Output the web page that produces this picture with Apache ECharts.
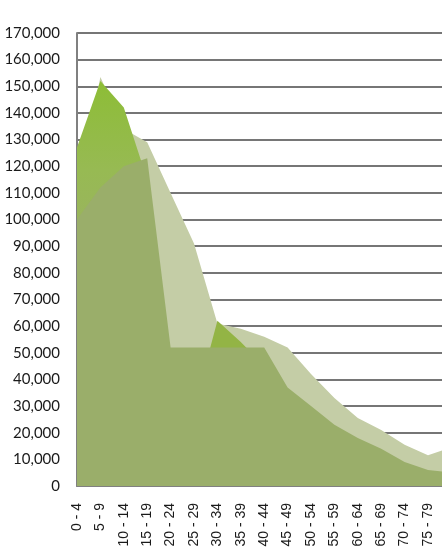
<!DOCTYPE html>
<html>
<head>
<meta charset="utf-8">
<style>
  html, body { margin: 0; padding: 0; background: #fff; }
  #main { width: 442px; height: 549px; }
</style>
<script src="https://cdn.jsdelivr.net/npm/echarts@6.0.0/dist/echarts.min.js"></script>
</head>
<body>
<div id="main"></div>
<script>
// 年龄组
var ageGroups = ['0 - 4','5 - 9','10 - 14','15 - 19','20 - 24','25 - 29','30 - 34','35 - 39',
    '40 - 44','45 - 49','50 - 54','55 - 59','60 - 64','65 - 69','70 - 74','75 - 79','80 +'];

// 后面浅色的面积
var backValues = [110000,153500,134000,129000,110000,91000,61000,59000,
    56000,52000,42000,33000,25500,21000,15500,11500,14500];
// 中间亮绿色
var brightValues = [127000,152000,142000,115000,40000,29000,62000,54000,
    45000,30000,24000,19000,15000,12000,8000,5000,5000];
// 前面橄榄绿
var frontValues = [100000,112000,120000,123000,52000,52000,52000,52000,
    52000,37000,30000,23000,18000,14000,9000,6000,5000];

// y轴刻度
var yMin = 0;
var yMax = 170000;
var yStep = 10000;

function areaSeries(name, data, color) {
    return {
        name: name,
        type: 'line',
        data: data,
        showSymbol: false,
        silent: true,
        lineStyle: { width: 0 },
        areaStyle: { opacity: 1, color: color },
        emphasis: { disabled: true }
    };
}

function showChart() {
    var myChart = echarts.init(document.getElementById('main'));

    //亮绿色往下慢慢变成橄榄绿, 30-34那块保持亮一点
    var brightColor = new echarts.graphic.LinearGradient(0, 0, 0, 1, [
        { offset: 0, color: '#8dbd36' },
        { offset: 0.22, color: '#97ba53' },
        { offset: 0.45, color: '#9bb064' },
        { offset: 0.57, color: '#9aae6a' },
        { offset: 0.585, color: '#93b445' },
        { offset: 0.665, color: '#93b445' },
        { offset: 0.675, color: '#9aae6a' },
        { offset: 1, color: '#9aae6a' }
    ]);

    var option = {
        animation: false,
        grid: { left: 77, top: 33, width: 374.4, height: 453, outerBoundsMode: 'none' },
        xAxis: {
            type: 'category',
            data: ageGroups,
            boundaryGap: false,
            axisLine: { lineStyle: { color: '#808080', width: 2 } },
            axisTick: { show: false },
            axisLabel: {
                rotate: 90,
                interval: 0,
                margin: 17,
                color: '#1a1a1a',
                fontFamily: 'Liberation Sans',
                fontSize: 14
            },
            splitLine: { show: false }
        },
        yAxis: {
            type: 'value',
            min: yMin,
            max: yMax,
            interval: yStep,
            axisLine: { show: true, lineStyle: { color: '#808080', width: 2 } },
            axisTick: { show: false },
            axisLabel: {
                margin: 17,
                color: '#1a1a1a',
                fontFamily: 'Lato',
                fontSize: 15,
                formatter: function (v) {
                    return v.toString().replace(/\B(?=(\d{3})+(?!\d))/g, ',');
                }
            },
            splitLine: { lineStyle: { color: '#767676', width: 2 } }
        },
        series: [
            areaSeries('back', backValues, '#c4cda6'),
            areaSeries('bright', brightValues, brightColor),
            areaSeries('front', frontValues, '#9aae6a')
        ]
    };

    myChart.setOption(option);
}

showChart();
</script>
</body>
</html>
